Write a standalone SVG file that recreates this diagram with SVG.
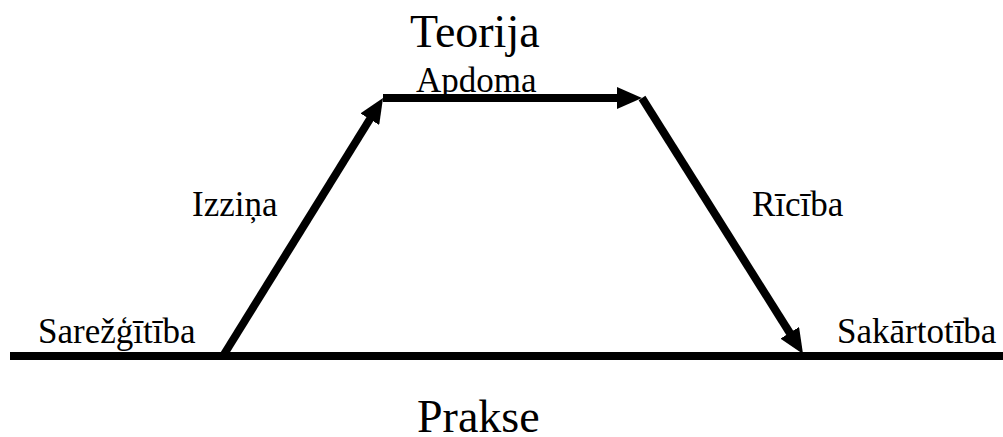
<svg xmlns="http://www.w3.org/2000/svg" width="1003" height="437" viewBox="0 0 1003 437">
<style>
text{font-family:'Liberation Serif','Times New Roman',Times,'DejaVu Serif',serif;fill:#000}
.big{font-size:46px}
.lbl{font-size:35px}
.ln{stroke:#000;stroke-width:8;fill:none}
</style>
<defs>
<marker id="ah" viewBox="0 0 25 22" refX="2" refY="11" markerWidth="25" markerHeight="22" markerUnits="userSpaceOnUse" orient="auto">
<path d="M0,0 L25,11 L0,22 z" fill="#000"/>
</marker>
</defs>
<rect width="1003" height="437" fill="#fff"/>
<g id="connectors">
<line class="ln" x1="10" y1="356" x2="1003" y2="356"/>
<line class="ln" x1="223" y1="356" x2="370.9" y2="117.5" marker-end="url(#ah)"/>
<line class="ln" x1="383" y1="98" x2="619" y2="98" marker-end="url(#ah)"/>
<line class="ln" x1="642" y1="98" x2="790.8" y2="334.5" marker-end="url(#ah)"/>
</g>
<g id="teorija"><text class="big" x="410" y="47" font-family="Liberation Serif">Teorija</text></g>
<g id="prakse"><text class="big" x="417" y="432" font-family="Liberation Serif">Prakse</text></g>
<g id="apdoma"><text class="lbl" x="416" y="92" font-family="Liberation Serif">Apdoma</text></g>
<g id="izzina"><text class="lbl" x="192" y="216" font-family="Liberation Serif">Izziņa</text></g>
<g id="riciba"><text class="lbl" x="752" y="216" font-family="Liberation Serif">Rīcība</text></g>
<g id="sarezgitiba"><text class="lbl" x="38" y="343" font-family="Liberation Serif">Sarežģītība</text></g>
<g id="sakartotiba"><text class="lbl" x="837" y="343" font-family="Liberation Serif">Sakārtotība</text></g>
</svg>
